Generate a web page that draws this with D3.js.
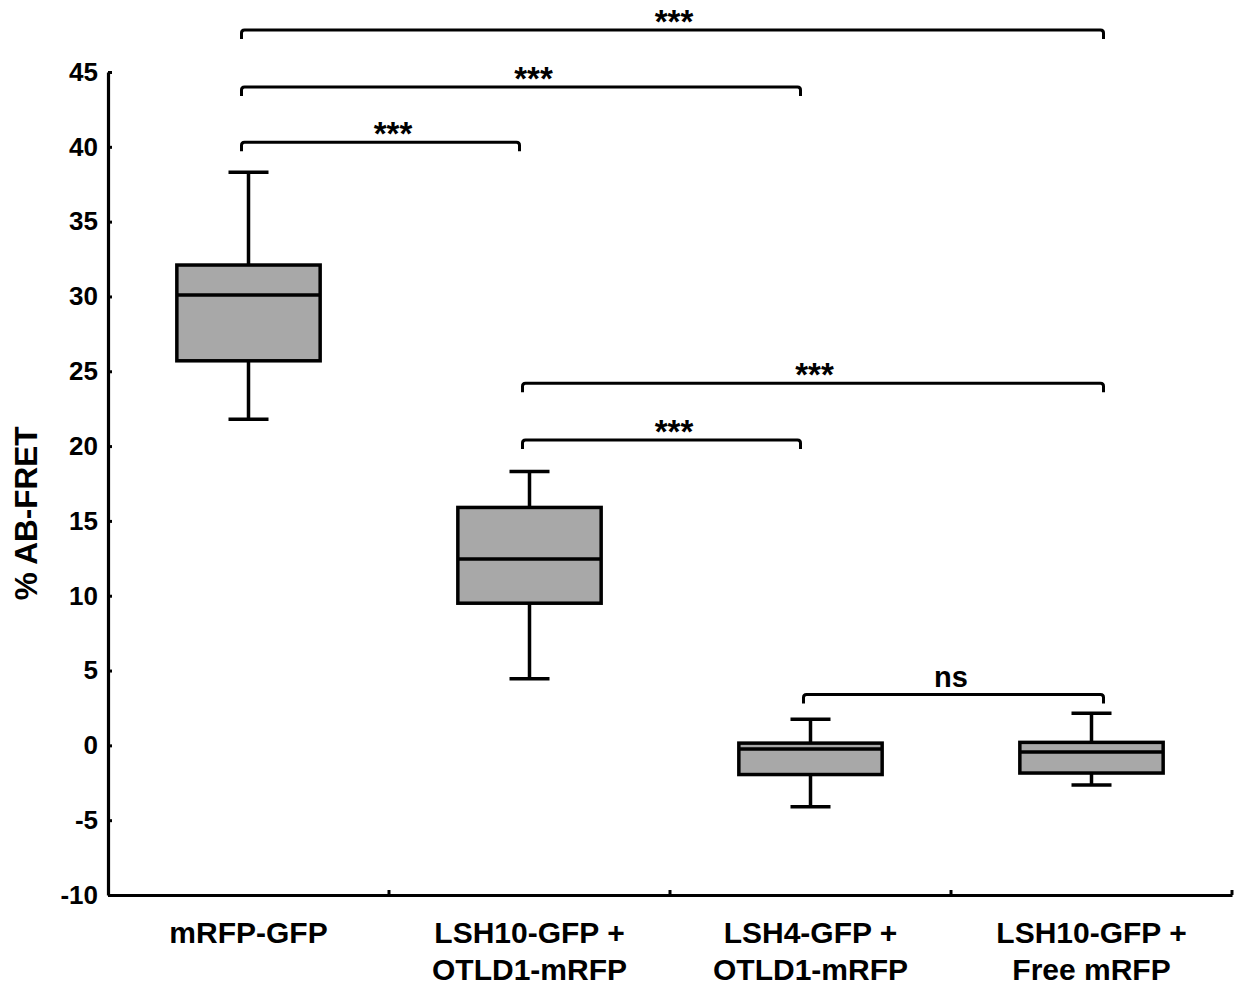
<!DOCTYPE html>
<html>
<head>
<meta charset="utf-8">
<script src="https://cdn.jsdelivr.net/npm/d3@7"></script>
<style>
  body { margin: 0; background: #fff; }
  text { font-family: "Liberation Sans", Arial, sans-serif; font-weight: bold; fill: #000; }
</style>
</head>
<body>
<div id="chart"></div>
<script>
// groups, one label line per array entry
let groups = [
    ["mRFP-GFP"],
    ["LSH10-GFP +", "OTLD1-mRFP"],
    ["LSH4-GFP +", "OTLD1-mRFP"],
    ["LSH10-GFP +", "Free mRFP"]
];
// box statistics
let whiskerLow = [21.8, 4.45, -4.1, -2.65];
let q1 = [25.7, 9.5, -1.95, -1.85];
let median = [30.1, 12.45, -0.25, -0.45];
let q3 = [32.1, 15.9, 0.15, 0.2];
let whiskerHigh = [38.3, 18.3, 1.75, 2.15];

let yTicks = [-10, -5, 0, 5, 10, 15, 20, 25, 30, 35, 40, 45];

// significance brackets: group indexes, level (in y units), label
let bracketFrom = [0, 0, 0, 1, 1, 2];
let bracketTo = [3, 2, 1, 3, 2, 3];
let bracketLevel = [47.8, 44.0, 40.3, 24.2, 20.4, 3.4];
let bracketLabel = ["***", "***", "***", "***", "***", "ns"];

let width = 1248, height = 990;
let margin = {left: 108, right: 16, top: 72, bottom: 95};

let svg = d3.select("#chart").append("svg")
    .attr("width", width)
    .attr("height", height);

let x = d3.scaleBand()
    .domain(d3.range(groups.length))
    .range([margin.left, width - margin.right])
    .padding(0);

let y = d3.scaleLinear()
    .domain([-10, 45])
    .range([height - margin.bottom, margin.top]);

let boxW = x.bandwidth() * 0.51;
let capW = 40;

// y axis
let yAxis = svg.append("g")
    .attr("transform", "translate(" + margin.left + ",0)")
    .call(d3.axisLeft(y).tickValues(yTicks).tickFormat(function(d) { return String(d); })
        .tickSizeInner(-4).tickSizeOuter(0).tickPadding(10));
yAxis.select(".domain").attr("stroke", "#000").attr("stroke-width", 3.2);
yAxis.selectAll(".tick line").attr("stroke", "#000").attr("stroke-width", 3);
yAxis.selectAll(".tick text").style("font-size", "26px");

// x axis, labels centred in bands, ticks at band edges
let xAxis = svg.append("g")
    .attr("transform", "translate(0," + y(-10) + ")")
    .call(d3.axisBottom(x).tickSize(0).tickSizeOuter(0).tickFormat(""));
xAxis.select(".domain").attr("stroke", "#000").attr("stroke-width", 3.2);

xAxis.selectAll(".edge")
    .data(d3.range(1, groups.length + 1))
    .enter().append("line")
    .attr("class", "edge")
    .attr("x1", function(d) { return x.range()[0] + d * x.step(); })
    .attr("x2", function(d) { return x.range()[0] + d * x.step(); })
    .attr("y1", 0)
    .attr("y2", -5)
    .attr("stroke", "#000")
    .attr("stroke-width", 3);

let xLabels = xAxis.selectAll(".xlabel")
    .data(groups)
    .enter().append("text")
    .attr("class", "xlabel")
    .attr("text-anchor", "middle")
    .attr("transform", function(d, i) { return "translate(" + (x(i) + x.bandwidth() / 2) + ",0)"; })
    .style("font-size", "30px");

xLabels.selectAll("tspan")
    .data(function(d) { return d; })
    .enter().append("tspan")
    .attr("x", 0)
    .attr("y", function(d, i) { return 48 + i * 37; })
    .text(function(d) { return d; });

// y axis title
svg.append("text")
    .attr("transform", "translate(37," + y(15.5) + ") rotate(-90)")
    .attr("text-anchor", "middle")
    .style("font-size", "31.5px")
    .text("% AB-FRET");

// boxes
let boxes = svg.append("g").selectAll("g")
    .data(groups)
    .enter().append("g")
    .attr("transform", function(d, i) { return "translate(" + (x(i) + x.bandwidth() / 2) + ",0)"; });

boxes.append("line")
    .attr("x1", 0).attr("x2", 0)
    .attr("y1", function(d, i) { return y(whiskerHigh[i]); })
    .attr("y2", function(d, i) { return y(whiskerLow[i]); })
    .attr("stroke", "#000").attr("stroke-width", 3.5);

boxes.selectAll(".cap")
    .data(function(d, i) { return [whiskerLow[i], whiskerHigh[i]]; })
    .enter().append("line")
    .attr("class", "cap")
    .attr("x1", -capW / 2).attr("x2", capW / 2)
    .attr("y1", function(d) { return y(d); })
    .attr("y2", function(d) { return y(d); })
    .attr("stroke", "#000").attr("stroke-width", 3.5);

boxes.append("rect")
    .attr("x", -boxW / 2)
    .attr("width", boxW)
    .attr("y", function(d, i) { return y(q3[i]); })
    .attr("height", function(d, i) { return y(q1[i]) - y(q3[i]); })
    .attr("fill", "#a8a8a8")
    .attr("stroke", "#000").attr("stroke-width", 3.5);

boxes.append("line")
    .attr("x1", -boxW / 2).attr("x2", boxW / 2)
    .attr("y1", function(d, i) { return y(median[i]); })
    .attr("y2", function(d, i) { return y(median[i]); })
    .attr("stroke", "#000").attr("stroke-width", 3.5);

// significance brackets
let center = function(i) { return x(i) + x.bandwidth() / 2; };
let brackets = svg.append("g").selectAll("g")
    .data(bracketLabel)
    .enter().append("g");

brackets.append("path")
    .attr("d", function(d, i) {
        let x1 = center(bracketFrom[i]) - 7;
        let x2 = center(bracketTo[i]) + (bracketTo[i] === 3 ? 12 : -10);
        let yy = y(bracketLevel[i]);
        return "M" + x1 + "," + (yy + 9) + "V" + (yy + 3) + "Q" + x1 + "," + yy + " " + (x1 + 3) + "," + yy +
            "H" + (x2 - 3) + "Q" + x2 + "," + yy + " " + x2 + "," + (yy + 3) + "V" + (yy + 9);
    })
    .attr("fill", "none")
    .attr("stroke", "#000")
    .attr("stroke-width", 3);

brackets.append("text")
    .attr("x", function(d, i) { return (center(bracketFrom[i]) + center(bracketTo[i])) / 2 + (d === "ns" ? 0 : 4); })
    .attr("y", function(d, i) { return y(bracketLevel[i]) - (d === "ns" ? 7 : -3); })
    .attr("text-anchor", "middle")
    .style("font-size", function(d) { return d === "ns" ? "29px" : "33px"; })
    .text(function(d) { return d; });
</script>
</body>
</html>
